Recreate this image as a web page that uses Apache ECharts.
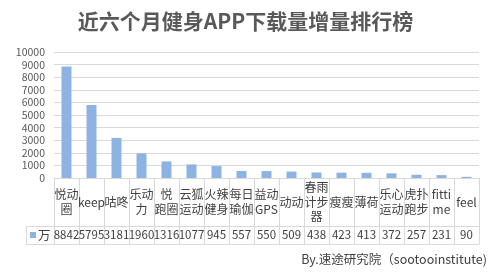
<!DOCTYPE html>
<html>
<head>
<meta charset="utf-8">
<script src="https://cdn.jsdelivr.net/npm/echarts@6/dist/echarts.min.js"></script>
<style>
  html, body { margin: 0; padding: 0; background: #fff; }
  #chart { width: 491px; height: 275px; }
</style>
</head>
<body>
<div id="chart"></div>
<script>
// app names (line breaks as in the table cells)
const categories = ['悦动\n圈', 'keep', '咕咚', '乐动\n力', '悦\n跑圈', '云狐\n运动', '火辣\n健身', '每日\n瑜伽', '益动\nGPS',
  '动动', '春雨\n计步\n器', '瘦瘦', '薄荷', '乐心\n运动', '虎扑\n跑步', 'fitti\nme', 'feel'];
// download increase, 万
const downloads = [8842, 5795, 3181, 1960, 1316, 1077, 945, 557, 550, 509, 438, 423, 413, 372, 257, 231, 90];
const yTicks = {min: 0, max: 10000, interval: 1000};

const barColor = '#8DB3E2';
const lineColor = '#d9d9d9';
const font = 'Noto Sans CJK SC';

// grid layout in px
const gLeft = 54, gTop = 52, gBottom = 97, rowCat = 48, rowVal = 18;
const axisY = 275 - gBottom;

const chart = echarts.init(document.getElementById('chart'));
const option = {
  animation: false,
  textStyle: {fontFamily: font},
  title: {
    text: '近六个月健身APP下载量增量排行榜',
    left: 'center',
    top: 6,
    textStyle: {fontSize: 21, fontWeight: 'bold', color: '#595959', fontFamily: font}
  },
  grid: {left: gLeft, right: 12, top: gTop, bottom: gBottom},
  xAxis: [
    {
      type: 'category',
      data: categories,
      axisLine: {lineStyle: {color: lineColor}},
      axisTick: {show: true, interval: 0, length: rowCat + rowVal, lineStyle: {color: lineColor}},
      axisLabel: {
        interval: 0, margin: rowCat / 2, verticalAlign: 'middle',
        fontSize: 12, lineHeight: 14.5, color: '#404040'
      }
    },
    {
      type: 'category',
      position: 'bottom',
      offset: rowCat,
      data: downloads.map(String),
      axisLine: {show: true, lineStyle: {color: lineColor}},
      axisTick: {show: false},
      axisLabel: {interval: 0, margin: rowVal / 2, verticalAlign: 'middle', fontSize: 11.5, color: '#404040'}
    },
    {
      type: 'category',
      position: 'bottom',
      offset: rowCat + rowVal,
      data: categories,
      axisLine: {show: true, lineStyle: {color: lineColor}},
      axisTick: {show: false},
      axisLabel: {show: false}
    }
  ],
  yAxis: {
    type: 'value',
    min: yTicks.min,
    max: yTicks.max,
    interval: yTicks.interval,
    axisLine: {show: false},
    axisTick: {show: false},
    axisLabel: {margin: 9, fontSize: 10.5, color: '#595959', formatter: v => String(v)},
    splitLine: {lineStyle: {color: lineColor}}
  },
  series: [{
    name: '万',
    type: 'bar',
    data: downloads,
    barWidth: '40%',
    itemStyle: {color: barColor}
  }],
  graphic: [
    // legend cell of the data table
    {type: 'line', shape: {x1: 26, y1: axisY + rowCat + 0.5, x2: gLeft, y2: axisY + rowCat + 0.5}, style: {stroke: lineColor}},
    {type: 'line', shape: {x1: 26, y1: axisY + rowCat + rowVal + 0.5, x2: gLeft, y2: axisY + rowCat + rowVal + 0.5}, style: {stroke: lineColor}},
    {type: 'line', shape: {x1: 26.5, y1: axisY + rowCat, x2: 26.5, y2: axisY + rowCat + rowVal}, style: {stroke: lineColor}},
    {type: 'rect', shape: {x: 30, y: axisY + rowCat + 6, width: 6, height: 6}, style: {fill: barColor}},
    {type: 'text', x: 38, y: axisY + rowCat + rowVal / 2,
      style: {text: '万', fontSize: 12.5, fill: '#404040', verticalAlign: 'middle', fontFamily: font}},
    {type: 'text', right: 4, top: 253,
      style: {text: 'By.速途研究院（sootooinstitute)', fontSize: 12.5, fill: '#404040', fontFamily: font}}
  ]
};
chart.setOption(option);
</script>
</body>
</html>
